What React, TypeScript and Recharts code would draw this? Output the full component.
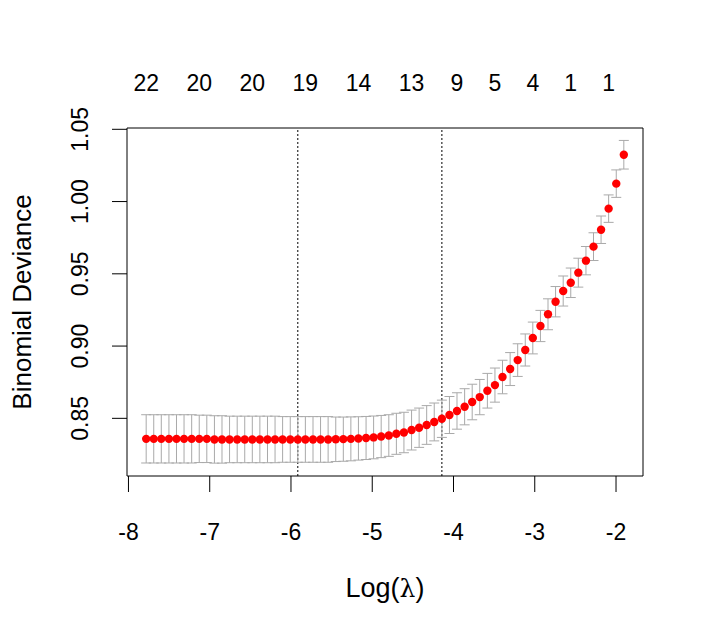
import { ScatterChart, Scatter, XAxis, YAxis, ErrorBar, ReferenceLine, ReferenceArea } from 'recharts'

// log(lambda) path, one entry per fitted lambda
const logLambda = [
  -7.782, -7.689, -7.596, -7.502, -7.409, -7.316, -7.222, -7.129, -7.036, -6.942,
  -6.849, -6.756, -6.662, -6.569, -6.476, -6.383, -6.289, -6.196, -6.103, -6.009,
  -5.916, -5.823, -5.729, -5.636, -5.543, -5.449, -5.356, -5.263, -5.170, -5.076,
  -4.983, -4.890, -4.796, -4.703, -4.610, -4.516, -4.423, -4.330, -4.237, -4.143,
  -4.050, -3.957, -3.863, -3.770, -3.677, -3.583, -3.490, -3.397, -3.303, -3.210,
  -3.117, -3.024, -2.930, -2.837, -2.744, -2.650, -2.557, -2.464, -2.370, -2.277,
  -2.184, -2.091, -1.997, -1.904,
]

// mean cross-validated binomial deviance
const cvMean = [
  0.8358, 0.8358, 0.8358, 0.8358, 0.8358, 0.8358, 0.8358, 0.8358, 0.8358, 0.8354,
  0.8354, 0.8354, 0.8354, 0.8354, 0.8354, 0.8354, 0.8354, 0.8354, 0.8354, 0.8354,
  0.8354, 0.8354, 0.8354, 0.8354, 0.8354, 0.8355, 0.8356, 0.8358, 0.8361, 0.8364,
  0.8368, 0.8374, 0.8381, 0.8393, 0.8402, 0.8419, 0.8435, 0.8454, 0.8475, 0.8497,
  0.8523, 0.8551, 0.8580, 0.8613, 0.8647, 0.8691, 0.8730, 0.8786, 0.8841, 0.8903,
  0.8973, 0.9056, 0.9139, 0.9220, 0.9307, 0.9381, 0.9438, 0.9508, 0.9591, 0.9688,
  0.9805, 0.9951, 1.0124, 1.0324,
]

// standard error of the cv estimate
const cvSd = [
  0.0167, 0.0167, 0.0167, 0.0167, 0.0167, 0.0167, 0.0167, 0.0164, 0.0164, 0.0164,
  0.0164, 0.0161, 0.0161, 0.0161, 0.0161, 0.0161, 0.0161, 0.0161, 0.0158, 0.0158,
  0.0158, 0.0158, 0.0158, 0.0158, 0.0158, 0.0154, 0.0153, 0.0152, 0.0150, 0.0149,
  0.0148, 0.0146, 0.0144, 0.0142, 0.0140, 0.0138, 0.0136, 0.0134, 0.0131, 0.0129,
  0.0128, 0.0126, 0.0125, 0.0123, 0.0122, 0.0120, 0.0118, 0.0116, 0.0114, 0.0113,
  0.0111, 0.0110, 0.0108, 0.0107, 0.0105, 0.0104, 0.0102, 0.0100, 0.0098, 0.0096,
  0.0095, 0.0095, 0.0095, 0.0099,
]

// number of non-zero coefficients shown along the top
const nzeroIdx = [0, 7, 14, 21, 28, 35, 41, 46, 51, 56, 61]
const nzeroLabels = ['22', '20', '20', '19', '14', '13', '9', '5', '4', '1', '1']

const xTicks = [-8, -7, -6, -5, -4, -3, -2]
const yTicks = [0.85, 0.9, 0.95, 1.0, 1.05]

const lambdaMinIdx = 20
const lambda1seIdx = 39

const X_DOMAIN: [number, number] = [-8.018, -1.668]
const Y_DOMAIN: [number, number] = [0.8101, 1.0509]

const FONT = 'Arial, "Liberation Sans", sans-serif'

const points = logLambda.map((x, i) => ({ x, y: cvMean[i], se: cvSd[i] }))
const topTicks = nzeroIdx.map((i) => logLambda[i])
// invisible points so the top axis has something to scale against
const topAnchors = nzeroIdx.map((i) => ({ x: logLambda[i], y: cvMean[i] }))

function BottomTick({ x, y, payload }: any) {
  return (
    <text x={x} y={y + 48} textAnchor="middle" fontSize={23} fontFamily={FONT} fill="#000">
      {payload.value}
    </text>
  )
}

function LeftTick({ x, y, payload }: any) {
  const bx = x - 24
  return (
    <text
      x={bx}
      y={y}
      transform={`rotate(-90, ${bx}, ${y})`}
      textAnchor="middle"
      fontSize={23}
      fontFamily={FONT}
      fill="#000"
    >
      {Number(payload.value).toFixed(2)}
    </text>
  )
}

function TopTick({ x, y, payload }: any) {
  let best = 0
  topTicks.forEach((t, i) => {
    if (Math.abs(t - payload.value) < Math.abs(topTicks[best] - payload.value)) best = i
  })
  return (
    <text x={x} y={y - 37} textAnchor="middle" fontSize={23} fontFamily={FONT} fill="#000">
      {nzeroLabels[best]}
    </text>
  )
}

export default function App() {
  return (
    <div style={{ width: 709, height: 636, background: '#fff' }}>
      <style>{'body{margin:0}'}</style>
      <ScatterChart width={709} height={636} margin={{ top: 88, right: 66, bottom: 100, left: 67 }}>
        <XAxis
          dataKey="x"
          type="number"
          domain={X_DOMAIN}
          allowDataOverflow
          ticks={xTicks}
          interval={0}
          height={60}
          axisLine={false}
          tickSize={16}
          tickMargin={0}
          tickLine={{ stroke: '#000' }}
          tick={BottomTick}
          label={{
            content: () => (
              <text x={385} y={597} textAnchor="middle" fontSize={27} fontFamily={FONT} fill="#000">
                Log(<tspan fontFamily='"DejaVu Serif", "Liberation Serif", serif' fontSize={25}>λ</tspan>)
              </text>
            ),
          }}
        />
        <XAxis
          xAxisId="top"
          dataKey="x"
          orientation="top"
          type="number"
          domain={X_DOMAIN}
          allowDataOverflow
          ticks={topTicks}
          interval={0}
          height={40}
          axisLine={false}
          tickLine={false}
          tickSize={0}
          tickMargin={0}
          tick={TopTick}
        />
        <YAxis
          dataKey="y"
          type="number"
          domain={Y_DOMAIN}
          allowDataOverflow
          ticks={yTicks}
          interval={0}
          width={60}
          axisLine={false}
          tickSize={15}
          tickMargin={0}
          tickLine={{ stroke: '#000' }}
          tick={LeftTick}
          label={{
            content: () => (
              <text
                x={31}
                y={302}
                transform="rotate(-90, 31, 302)"
                textAnchor="middle"
                fontSize={26}
                fontFamily={FONT}
                fill="#000"
              >
                Binomial Deviance
              </text>
            ),
          }}
        />
        <ReferenceArea
          x1={X_DOMAIN[0]}
          x2={X_DOMAIN[1]}
          y1={Y_DOMAIN[0]}
          y2={Y_DOMAIN[1]}
          fill="none"
          fillOpacity={0}
          stroke="#000"
          strokeWidth={1}
        />
        <ReferenceLine x={logLambda[lambdaMinIdx]} stroke="#000" strokeDasharray="2 2" />
        <ReferenceLine x={logLambda[lambda1seIdx]} stroke="#000" strokeDasharray="2 2" />
        <Scatter
          xAxisId="top"
          data={topAnchors}
          isAnimationActive={false}
          shape={() => <g />}
        />
        <Scatter
          data={points}
          isAnimationActive={false}
          shape={(p: any) => <circle cx={p.cx} cy={p.cy} r={4.2} fill="#ff0000" />}
        >
          <ErrorBar dataKey="se" direction="y" width={5} stroke="#a9a9a9" strokeWidth={1} isAnimationActive={false} />
        </Scatter>
      </ScatterChart>
    </div>
  )
}
